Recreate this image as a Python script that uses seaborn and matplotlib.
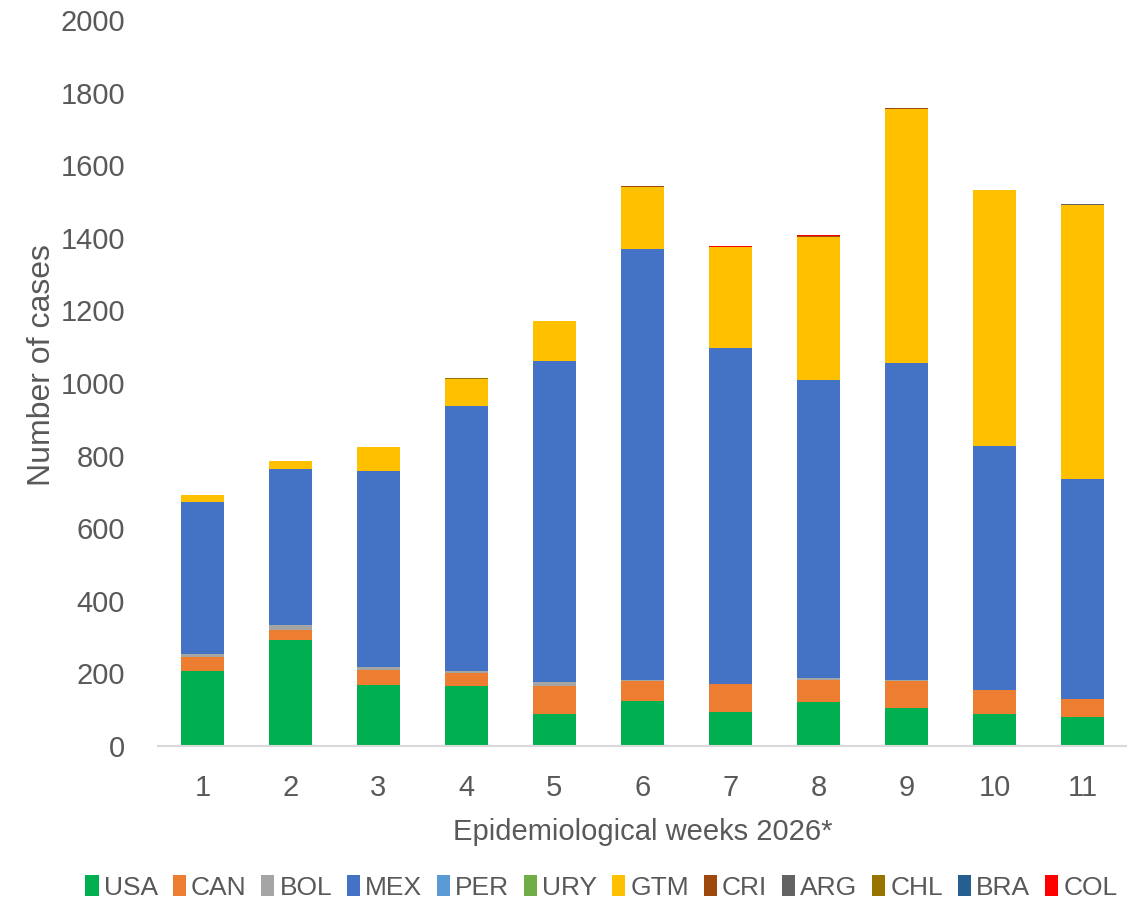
import matplotlib
matplotlib.use("Agg")
import matplotlib.pyplot as plt
from matplotlib.patches import Patch
import seaborn as sns
import numpy as np
import pandas as pd

weeks = ["1", "2", "3", "4", "5", "6", "7", "8", "9", "10", "11"]
countries = ["USA", "CAN", "BOL", "MEX", "PER", "URY", "GTM", "CRI", "ARG", "CHL", "BRA", "COL"]
USA = [206, 292, 168, 164, 87, 123, 95, 121, 105, 89, 80]
CAN = [40, 28, 42, 38, 79, 55, 76, 60, 75, 65, 50]
BOL = [7, 13, 7, 4, 10, 4, 0, 5, 2, 0, 0]
MEX = [420, 430, 541, 731, 885, 1188, 926, 821, 873, 672, 606]
PER = [0, 0, 0, 0, 0, 0, 0, 0, 0, 0, 0]
URY = [0, 0, 0, 0, 0, 0, 0, 0, 0, 0, 0]
GTM = [18, 22, 66, 74, 110, 169, 278, 396, 700, 706, 754]
CRI = [0, 0, 0, 0, 0, 3, 0, 2, 3, 0, 0]
ARG = [0, 0, 0, 0, 0, 0, 0, 0, 0, 0, 2]
CHL = [0, 0, 0, 3, 0, 0, 0, 0, 0, 0, 0]
BRA = [0, 0, 0, 0, 0, 0, 0, 0, 0, 0, 0]
COL = [0, 0, 0, 0, 0, 0, 3, 2, 0, 0, 0]
series = [USA, CAN, BOL, MEX, PER, URY, GTM, CRI, ARG, CHL, BRA, COL]
colors = ["#00B050", "#ED7D31", "#A5A5A5", "#4472C4", "#5B9BD5", "#70AD47",
          "#FFC000", "#9E480E", "#636363", "#997300", "#255E91", "#FF0000"]

sns.set_theme(style="white")
plt.rcParams["font.family"] = ["Liberation Sans", "DejaVu Sans"]
txt = "#595959"

fig = plt.figure(figsize=(11.39, 9.07), dpi=100)
ax = fig.add_axes([0.139, 0.1775, 0.850, 0.8005])

bottom = np.zeros(len(weeks))
for name, vals, col in zip(countries, series, colors):
    df = pd.DataFrame({"week": weeks, "cases": vals})
    sns.barplot(data=df, x="week", y="cases", color=col, bottom=bottom,
                width=0.49, linewidth=0, saturation=1, ax=ax, errorbar=None)
    bottom = bottom + np.array(vals)

ax.set_ylim(0, 2000)
ax.set_xlim(-0.5, len(weeks) - 0.5)
ax.set_yticks(range(0, 2001, 200))
ax.tick_params(axis="both", length=0, labelsize=21, colors=txt)
ax.tick_params(axis="x", pad=20)
ax.tick_params(axis="y", pad=24)
for s in ["top", "right", "left"]:
    ax.spines[s].set_visible(False)
ax.spines["bottom"].set_color("#D9D9D9")
ax.spines["bottom"].set_linewidth(1.5)
ax.set_xlabel("Epidemiological weeks 2026*", fontsize=21, color=txt, labelpad=12)
ax.set_ylabel("Number of cases", fontsize=23, color=txt)
ax.yaxis.set_label_coords(-0.105, 0.525)
ax.patch.set_alpha(0)

handles = [Patch(facecolor=c, edgecolor="none", label=n) for n, c in zip(countries, colors)]
fig.legend(handles=handles, loc="center", bbox_to_anchor=(0.528, 0.022), ncol=12,
           frameon=False, fontsize=19, handlelength=0.5, handleheight=0.9,
           handletextpad=0.2, columnspacing=0.55, labelcolor=txt)

fig.savefig("out.png", dpi=100, facecolor="white")
